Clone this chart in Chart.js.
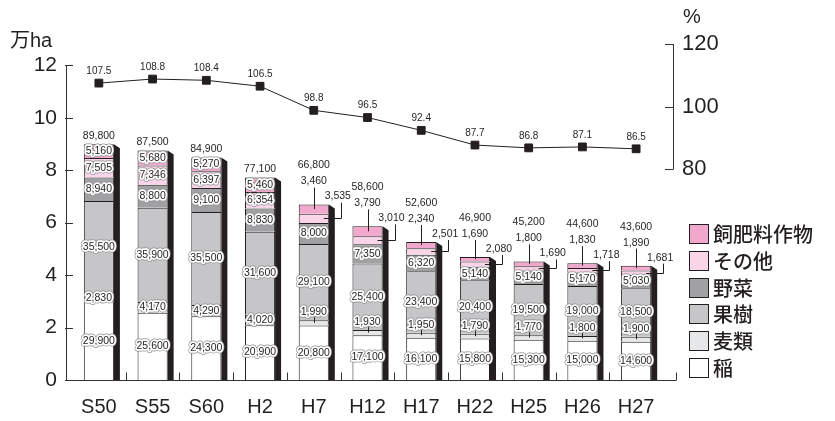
<!DOCTYPE html>
<html lang="ja">
<head>
<meta charset="UTF-8">
<title>作付面積の推移</title>
<script src="https://cdn.jsdelivr.net/npm/chart.js"></script>
<style>
  html, body { margin: 0; padding: 0; background: #fff; }
  #wrap { position: relative; width: 835px; height: 421px; }
  #legend {
    position: absolute; left: 689px; top: 221px;
    font-family: "Noto Sans CJK JP", sans-serif; font-size: 20px; font-weight: 500; color: #231f20;
  }
  .item { display: flex; align-items: center; height: 26.7px; line-height: 1; }
  .box { width: 20px; height: 20px; box-sizing: border-box; border: 1px solid #231f20; margin-right: 4px; }
</style>
</head>
<body>
<div id="wrap">
  <canvas id="chart" width="835" height="421"></canvas>
  <div id="legend"></div>
</div>
<script>
// 年次
const years = ['S50', 'S55', 'S60', 'H2', 'H7', 'H12', 'H17', 'H22', 'H25', 'H26', 'H27'];
// 作付面積 (ha)
const ine      = [29900, 25600, 24300, 20900, 20800, 17100, 16100, 15800, 15300, 15000, 14600];
const mugi     = [2830, 4170, 4290, 4020, 1990, 1930, 1950, 1790, 1770, 1800, 1900];
const kaju     = [35500, 35900, 35500, 31600, 29100, 25400, 23400, 20400, 19500, 19000, 18500];
const yasai    = [8940, 8800, 9100, 8830, 8000, 7350, 6320, 5140, 5140, 5170, 5030];
const sonota   = [7505, 7346, 6397, 6354, 3535, 3010, 2501, 2080, 1690, 1718, 1681];
const shihiryo = [5160, 5680, 5270, 5460, 3460, 3790, 2340, 1690, 1800, 1830, 1890];
const totals   = [89800, 87500, 84900, 77100, 66800, 58600, 52600, 46900, 45200, 44600, 43600];
// 耕地利用率 (%)
const ratio    = [107.5, 108.8, 108.4, 106.5, 98.8, 96.5, 92.4, 87.7, 86.8, 87.1, 86.5];
// 目盛
const yTicks   = [0, 2, 4, 6, 8, 10, 12];
const pctTicks = [80, 100, 120];

const ink = '#231f20';
const numFont = '"Liberation Sans", Arial, sans-serif';

const series = [
  { name: '稲',         data: ine,      color: '#ffffff' },
  { name: '麦類',       data: mugi,     color: '#e6e7e8' },
  { name: '果樹',       data: kaju,     color: '#c6c6c8' },
  { name: '野菜',       data: yasai,    color: '#a1a1a4' },
  { name: 'その他',     data: sonota,   color: '#fad5e7' },
  { name: '飼肥料作物', data: shihiryo, color: '#f2a7cc' }
];

// 凡例
const legend = document.getElementById('legend');
series.slice().reverse().forEach(s => {
  const item = document.createElement('div');
  item.className = 'item';
  item.innerHTML = `<span class="box" style="background:${s.color}"></span><span>${s.name}</span>`;
  legend.appendChild(item);
});

const fmt = v => v.toLocaleString('en-US');

function label(ctx, text, x, y, halo) {
  ctx.font = '10.5px ' + numFont;
  ctx.textAlign = 'center';
  ctx.textBaseline = 'middle';
  if (halo) {
    ctx.lineJoin = 'round';
    ctx.strokeStyle = '#8a8a8c';
    ctx.lineWidth = 4.8;
    ctx.strokeText(text, x, y);
    ctx.strokeStyle = '#fff';
    ctx.lineWidth = 3.5;
    ctx.strokeText(text, x, y);
  }
  ctx.fillStyle = ink;
  ctx.fillText(text, x, y);
}

function line(ctx, pts, color) {
  ctx.strokeStyle = color || ink;
  ctx.lineWidth = 1;
  ctx.beginPath();
  ctx.moveTo(pts[0][0], pts[0][1]);
  for (let i = 1; i < pts.length; i++) ctx.lineTo(pts[i][0], pts[i][1]);
  ctx.stroke();
}

const decor = {
  id: 'decor',
  beforeDatasetsDraw(chart) {
    // 立体の側面
    const { ctx } = chart;
    const y0 = chart.scales.y.getPixelForValue(0);
    ctx.save();
    ctx.fillStyle = ink;
    chart.getDatasetMeta(5).data.forEach(el => {
      const r = el.x + el.width / 2;
      ctx.beginPath();
      ctx.moveTo(r, el.y);
      ctx.lineTo(r + 6, el.y + 4);
      ctx.lineTo(r + 6, y0);
      ctx.lineTo(r, y0);
      ctx.closePath();
      ctx.fill();
    });
    ctx.restore();
  },
  afterDraw(chart) {
    const { ctx, chartArea } = chart;
    const sy = chart.scales.y, sy1 = chart.scales.y1, sx = chart.scales.x;
    const y0 = sy.getPixelForValue(0);
    const axis = '#333';
    ctx.save();

    // 左軸
    const lx = chartArea.left - 6;
    line(ctx, [[lx + 0.5, sy.getPixelForValue(120000)], [lx + 0.5, y0]], axis);
    yTicks.forEach(v => {
      const py = Math.round(sy.getPixelForValue(v * 10000)) + 0.5;
      line(ctx, [[lx - 1, py], [lx + 7, py]], axis);
    });
    // 右軸
    const rx = chartArea.right + 10;
    line(ctx, [[rx + 0.5, sy1.getPixelForValue(120)], [rx + 0.5, sy1.getPixelForValue(80)]], axis);
    pctTicks.forEach(v => {
      const py = Math.round(sy1.getPixelForValue(v)) + 0.5;
      line(ctx, [[rx - 8, py], [rx + 0.5, py]], axis);
    });
    // 横軸
    const by = Math.round(y0) + 0.5;
    line(ctx, [[lx, by], [chartArea.right + 13, by]], axis);
    const slot = sx.getPixelForValue(1) - sx.getPixelForValue(0);
    for (let i = 0; i < years.length - 1; i++) {
      const px = Math.round(sx.getPixelForValue(i) + slot / 2) + 0.5;
      line(ctx, [[px, by], [px, by - 8]], axis);
    }
    line(ctx, [[chartArea.right + 13.5, by], [chartArea.right + 13.5, by - 8]], axis);

    // 軸タイトル
    ctx.fillStyle = ink;
    ctx.textAlign = 'left';
    ctx.textBaseline = 'middle';
    ctx.font = '20px ' + numFont + ', "Noto Sans CJK JP"';
    ctx.fillText('万ha', 10, 41);
    ctx.fillText('%', 683, 17);

    // 棒の数値
    const metas = series.map((s, i) => chart.getDatasetMeta(i).data);
    years.forEach((yr, j) => {
      const x = metas[0][j].x;
      const top = metas[5][j].y;
      const outside = j >= 4;
      series.forEach((s, i) => {
        const el = metas[i][j];
        const mid = (el.y + el.base) / 2;
        const text = fmt(s.data[j]);
        if (!outside || i === 0 || i === 2 || i === 3) {
          label(ctx, text, x, mid, true);
        } else if (i === 1) {
          line(ctx, [[Math.round(x) + 0.5, el.y - 3], [Math.round(x) + 0.5, mid]]);
          label(ctx, text, x, el.y - 8, true);
        } else if (i === 4) {
          const lxx = Math.round(x + 27) + 0.5;
          const ly = top - 8;
          line(ctx, [[x + 10, Math.round(mid) + 0.5], [lxx, Math.round(mid) + 0.5], [lxx, ly + 6]]);
          label(ctx, text, x + 24, ly, false);
        } else {
          const ly = top - 23;
          line(ctx, [[Math.round(x) + 0.5, ly + 6], [Math.round(x) + 0.5, mid]]);
          label(ctx, text, x, ly, false);
        }
      });
      label(ctx, fmt(totals[j]), x, outside ? top - 39 : top - 8, false);
    });

    // 折れ線の数値
    chart.getDatasetMeta(6).data.forEach((p, i) => {
      ctx.font = '10px ' + numFont;
      ctx.fillStyle = ink;
      ctx.textAlign = 'center';
      ctx.fillText(ratio[i].toFixed(1), p.x, p.y - 12);
    });
    ctx.restore();
  }
};

const datasets = series.map(s => ({
  type: 'bar',
  label: s.name,
  data: s.data,
  backgroundColor: s.color,
  borderColor: ink,
  borderWidth: 1,
  barPercentage: 0.56,
  categoryPercentage: 1,
  yAxisID: 'y'
}));
datasets.push({
  type: 'line',
  label: '耕地利用率',
  data: ratio,
  yAxisID: 'y1',
  borderColor: ink,
  borderWidth: 1,
  pointStyle: 'rect',
  pointRadius: 5.5,
  pointBackgroundColor: ink,
  pointBorderColor: ink,
  tension: 0
});

new Chart(document.getElementById('chart'), {
  type: 'bar',
  data: { labels: years, datasets },
  options: {
    responsive: false,
    animation: false,
    layout: { padding: { top: 44 } },
    plugins: { legend: { display: false }, tooltip: { enabled: false } },
    scales: {
      x: {
        stacked: true,
        grid: { display: false, drawTicks: false },
        border: { display: false },
        ticks: { color: ink, padding: 15, font: { size: 20, family: numFont } },
        afterFit(s) { s.height = 41; }
      },
      y: {
        stacked: true,
        position: 'left',
        min: 0,
        max: 128100,
        grid: { display: false, drawTicks: false },
        border: { display: false },
        ticks: { color: ink, padding: 15, font: { size: 21, family: numFont }, callback: v => v / 10000 },
        afterBuildTicks(s) { s.ticks = yTicks.map(v => ({ value: v * 10000 })); },
        afterFit(s) { s.width = 72; }
      },
      y1: {
        position: 'right',
        min: 12.6,
        max: 120,
        grid: { display: false, drawTicks: false },
        border: { display: false },
        ticks: { color: ink, padding: 19, font: { size: 22, family: numFont } },
        afterBuildTicks(s) { s.ticks = pctTicks.map(v => ({ value: v })); },
        afterFit(s) { s.width = 172; }
      }
    }
  },
  plugins: [decor]
});
</script>
</body>
</html>
